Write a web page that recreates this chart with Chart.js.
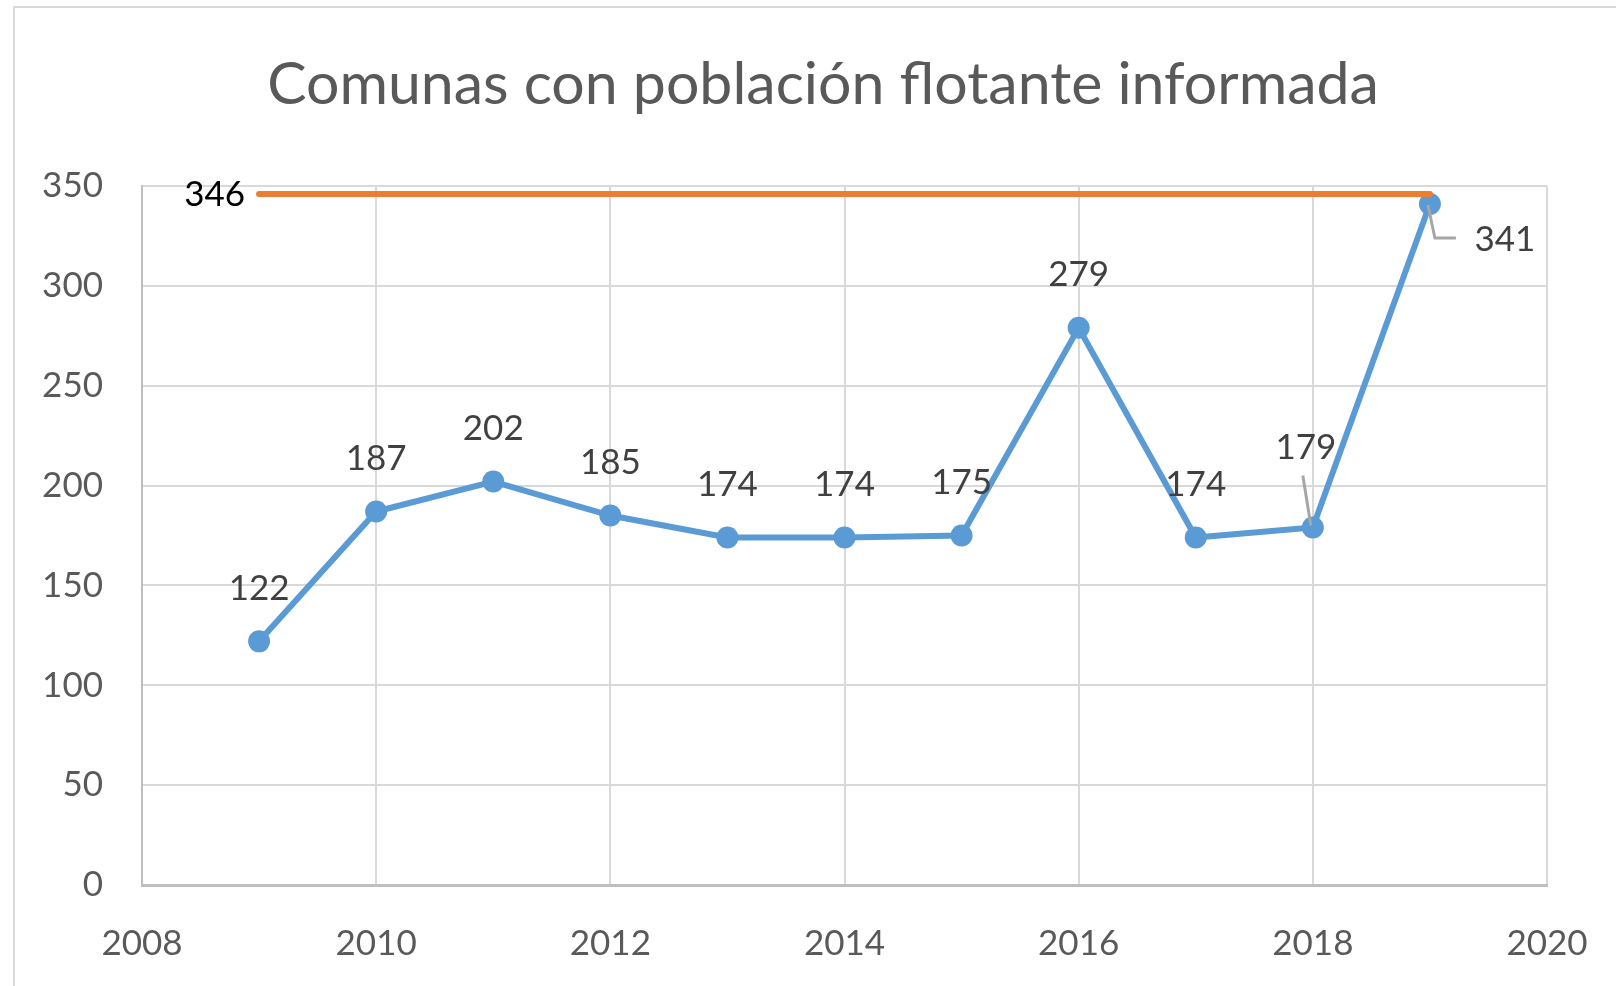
<!DOCTYPE html>
<html>
<head>
<meta charset="utf-8">
<title>Comunas con población flotante informada</title>
<script src="https://cdn.jsdelivr.net/npm/chart.js@4.4.1/dist/chart.umd.min.js"></script>
<style>
html, body { margin: 0; padding: 0; background: #fff; }
#wrap { width: 1616px; height: 986px; position: relative; }
</style>
</head>
<body>
<div id="wrap"><canvas id="chart"></canvas></div>
<script>
// datos
const chartTitle = 'Comunas con población flotante informada';
const years = [2009, 2010, 2011, 2012, 2013, 2014, 2015, 2016, 2017, 2018, 2019];
const comunas = [122, 187, 202, 185, 174, 174, 175, 279, 174, 179, 341];
const totalYears = [2009, 2019];
const totalComunas = [346, 346];
const xTicks = [2008, 2010, 2012, 2014, 2016, 2018, 2020];
const yTicks = [0, 50, 100, 150, 200, 250, 300, 350];

const FONT = 'Lato, "Open Sans", sans-serif';

// desplazamiento de etiquetas (px) respecto al punto
const labelOffset = { 9: [-7, -80], 10: [75, 36] };
const leaderLines = {
    9: [[-10, -52], [-2, -2]],
    10: [[-2, 1], [5, 34], [26, 34]]
};

const frame = {
    id: 'frame',
    beforeDraw(chart) {
        const c = chart.ctx;
        c.save();
        c.strokeStyle = '#d9d9d9';
        c.lineWidth = 2;
        c.strokeRect(14, 7, 1700, 1100);
        // título
        c.fillStyle = '#595959';
        c.font = '59px ' + FONT;
        c.textAlign = 'center';
        c.textBaseline = 'alphabetic';
        c.fillText(chartTitle, 823, 104);
        c.restore();
    }
};

const valueLabels = {
    id: 'valueLabels',
    afterDatasetsDraw(chart) {
        const c = chart.ctx;
        c.save();
        c.font = '35px ' + FONT;
        c.textBaseline = 'middle';

        // línea de referencia: solo la primera etiqueta
        const ref = chart.getDatasetMeta(0).data[0];
        c.fillStyle = '#000';
        c.textAlign = 'right';
        c.fillText(String(totalComunas[0]), ref.x - 14, ref.y + 1);

        const pts = chart.getDatasetMeta(1).data;
        c.strokeStyle = '#a6a6a6';
        c.lineWidth = 3;
        Object.keys(leaderLines).forEach(k => {
            const p = pts[k];
            c.beginPath();
            leaderLines[k].forEach((d, i) => {
                if (i === 0) c.moveTo(p.x + d[0], p.y + d[1]);
                else c.lineTo(p.x + d[0], p.y + d[1]);
            });
            c.stroke();
        });

        c.fillStyle = '#404040';
        c.textAlign = 'center';
        pts.forEach((p, i) => {
            const off = labelOffset[i] || [0, -53];
            c.fillText(String(comunas[i]), p.x + off[0], p.y + off[1]);
        });
        c.restore();
    }
};

const ctx = document.getElementById('chart').getContext('2d');
new Chart(ctx, {
    type: 'line',
    data: {
        datasets: [{
            label: 'Total',
            data: totalYears.map((y, i) => ({ x: y, y: totalComunas[i] })),
            borderColor: '#ed7d31',
            borderWidth: 6,
            borderCapStyle: 'round',
            pointRadius: 0,
            order: 1
        }, {
            label: 'Comunas',
            data: years.map((y, i) => ({ x: y, y: comunas[i] })),
            borderColor: '#5b9bd5',
            backgroundColor: '#5b9bd5',
            borderWidth: 6,
            pointRadius: 11,
            pointBorderWidth: 0,
            order: 2
        }]
    },
    options: {
        responsive: true,
        maintainAspectRatio: false,
        animation: false,
        layout: { padding: { left: 0, right: 69, top: 186, bottom: 0 } },
        plugins: {
            legend: { display: false },
            tooltip: { enabled: false },
            title: { display: false }
        },
        scales: {
            x: {
                type: 'linear',
                min: xTicks[0],
                max: xTicks[xTicks.length - 1],
                ticks: {
                    stepSize: xTicks[1] - xTicks[0],
                    color: '#595959',
                    font: { family: FONT, size: 35 },
                    padding: 38,
                    maxRotation: 0,
                    callback: v => String(v)
                },
                grid: { color: '#d9d9d9', lineWidth: 2, drawTicks: false },
                border: { color: '#bfbfbf', width: 3 },
                afterFit: s => { s.height = 101; s.paddingLeft = 0; s.paddingRight = 0; }
            },
            y: {
                min: yTicks[0],
                max: yTicks[yTicks.length - 1],
                ticks: {
                    stepSize: yTicks[1] - yTicks[0],
                    color: '#595959',
                    font: { family: FONT, size: 35 },
                    padding: 39
                },
                grid: { color: '#d9d9d9', lineWidth: 2, drawTicks: false },
                border: { color: '#bfbfbf', width: 2 },
                afterFit: s => { s.width = 142; }
            }
        }
    },
    plugins: [frame, valueLabels]
});
</script>
</body>
</html>
